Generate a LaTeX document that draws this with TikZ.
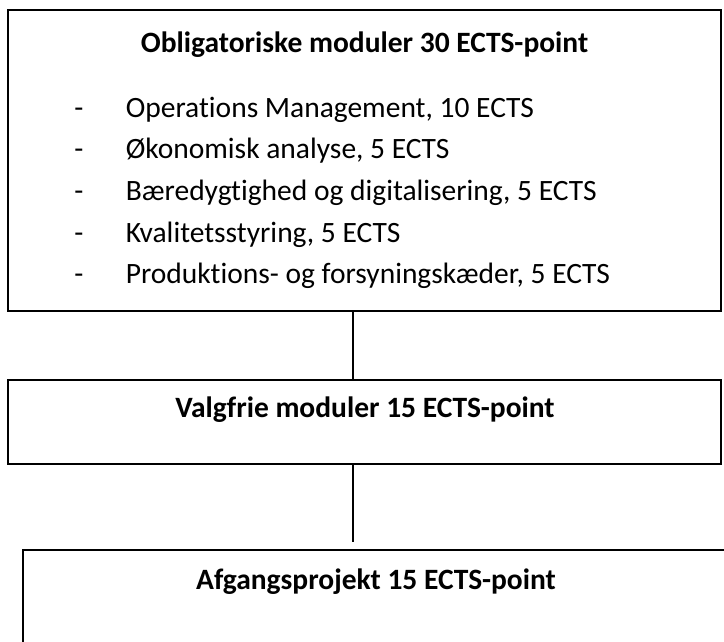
\documentclass[tikz,border=0pt]{standalone}
\usepackage{fontspec}
\setmainfont{Carlito}[Ligatures=NoCommon]
\tikzset{
  boxstyle/.style={draw=black, line width=2pt, rectangle, minimum width=713pt, inner sep=0pt},
  conn/.style={draw=black, line width=1.4pt},
  headtext/.style={anchor=base, font=\fontsize{29.5}{35}\selectfont\bfseries, inner sep=0pt},
  itemtext/.style={anchor=base west, font=\fontsize{29.5}{35}\selectfont, inner sep=0pt},
  dashtext/.style={anchor=base, font=\fontsize{29.5}{35}\selectfont, inner sep=0pt}
}
\begin{document}
\begin{tikzpicture}[x=1pt,y=-1pt]
\useasboundingbox (0,0) rectangle (724,641);
\clip (0,0) rectangle (724,641);
\node[boxstyle, minimum height=301pt] (box1) at (364.5,160.5) {};
\node[boxstyle, minimum height=84pt] (box2) at (364.5,422) {};
\node[boxstyle, minimum height=110pt] (box3) at (379.5,605) {};
\coordinate (cx) at (353,0);
\draw[conn] (box1.south -| cx) -- (box2.north -| cx);
\draw[conn] (box2.south -| cx) -- ([yshift=7pt]box3.north -| cx);
\node[headtext] (h1) at (364.5,52) {Obligatoriske moduler 30 ECTS-point};
\node[headtext] (h2) at (365,417) {Valgfrie moduler 15 ECTS-point};
\node[headtext] (h3) at (376,589) {Afgangsprojekt 15 ECTS-point};
\foreach \i/\t in {0/{Operations Management, 10 ECTS},1/{Økonomisk analyse, 5 ECTS},2/{Bæredygtighed og digitalisering, 5 ECTS},3/{Kvalitetsstyring, 5 ECTS},4/{Produktions- og forsyningskæder, 5 ECTS}}{
  \node[dashtext] (d\i) at (79,117+41.7*\i) {-};
  \node[itemtext] (i\i) at (125.6,117+41.7*\i) {\t};
}
\end{tikzpicture}
\end{document}
